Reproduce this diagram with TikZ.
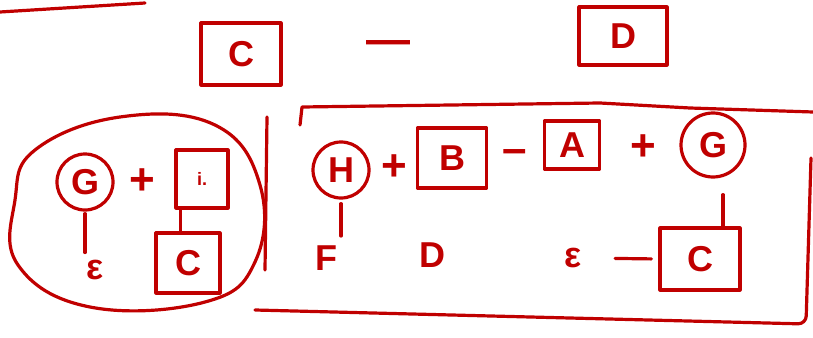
\documentclass[tikz,border=0pt]{standalone}
\usepackage{fontspec}
\setmainfont{Liberation Sans}
\usetikzlibrary{positioning}
\definecolor{inkred}{RGB}{192,0,0}
\tikzset{
  circ/.style={circle, draw, minimum size=56pt, inner sep=0pt, font=\fontsize{36}{38}\selectfont\bfseries},
  sq/.style={rectangle, draw, minimum width=66pt, minimum height=58pt, inner sep=0pt, font=\fontsize{36}{38}\selectfont\bfseries},
  lbl/.style={inner sep=0pt, font=\fontsize{36}{38}\selectfont\bfseries},
  op/.style={inner sep=0pt, font=\fontsize{44}{46}\selectfont\bfseries}
}
\begin{document}
\begin{tikzpicture}[x=1pt, y=-1pt, color=inkred, line width=3.2pt, line cap=round, line join=round]
  \useasboundingbox (0,0) rectangle (813,337);
  \draw (0,12) -- (145,3);
  % top row
  \node[sq, minimum width=80pt, minimum height=62pt] (Ctop) at (241,54) {C};
  \node[op] (mtop) at (388,48) {—};
  \node[sq, minimum width=88pt, minimum height=58pt] (Dtop) at (623,36) {D};
  % left group
  \draw plot[smooth cycle, tension=0.7] coordinates {(35,150) (120,117) (215,125) (260,185) (255,262) (205,302) (90,307) (18,265) (15,200)};
  \draw (267,117) -- (265,270);
  \node[circ] (Gl) at (85,182) {G};
  \node[op] (pl) at (142,182) {+};
  \node[sq, minimum width=52pt, minimum height=58pt, font=\fontsize{18}{18}\selectfont\bfseries] (il) at (202,179) {i.};
  \node[lbl] (El) at (95,270) {ε};
  \node[sq, minimum width=64pt, minimum height=60pt] (Cl) at (188,263) {C};
  \draw[shorten <=2pt, shorten >=6pt] (Gl.south) -- (Gl.south |- El.north);
  \draw ([xshift=6pt]il.south west) -- ([xshift=6pt]il.south west |- Cl.north);
  % right group
  \draw (300,125) -- (302,107) -- (600,103) -- (690,108) -- (813,112);
  \draw[rounded corners=8pt] (811,158) -- (806,324) -- (255,310);
  \node[circ] (H) at (341,170) {H};
  \node[op] (p1) at (394,168) {+};
  \node[sq, minimum width=69pt, minimum height=60pt] (B) at (452,158) {B};
  \node[op] (m1) at (515,157) {–};
  \node[sq, minimum width=55pt, minimum height=48pt] (A) at (572,145) {A};
  \node[op] (p2) at (643,148) {+};
  \node[circ, minimum size=64pt] (G) at (713,145) {G};
  \node[lbl] (F) at (326,258) {F};
  \node[lbl] (D) at (432,255) {D};
  \node[lbl] (E) at (573,258) {ε};
  \node[sq, minimum width=80pt, minimum height=62pt] (C) at (700,259) {C};
  \coordinate (gc) at ([xshift=23pt]C.north);
  \draw[shorten <=4pt, shorten >=8pt] (H.south) -- (H.south |- F.north);
  \draw[shorten <=16pt] (G.south -| gc) -- (gc);
  \draw[shorten <=32pt, shorten >=7pt] (E.east) -- (C.west);
\end{tikzpicture}
\end{document}
